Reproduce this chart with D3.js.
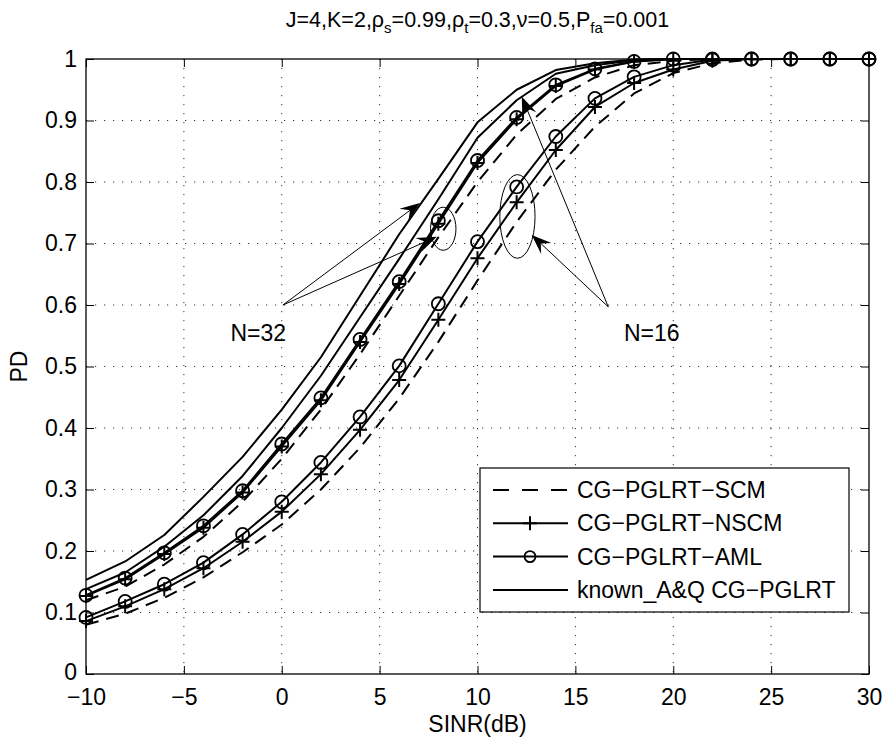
<!DOCTYPE html>
<html>
<head>
<meta charset="utf-8">
<script src="https://cdn.jsdelivr.net/npm/d3@7"></script>
<style>
  body { margin: 0; background: #fff; }
  text { font-family: "Liberation Sans", Arial, sans-serif; fill: #000; }
</style>
</head>
<body>
<svg id="chart" width="885" height="740"></svg>
<script>
// SINR sample points (dB)
const snr = [-10, -8, -6, -4, -2, 0, 2, 4, 6, 8, 10, 12, 14, 16, 18, 20, 22, 24, 26, 28, 30];

// known A&Q curves (two plain solid lines on top)
const knownA = [0.153, 0.183, 0.226, 0.288, 0.353, 0.43, 0.515, 0.615, 0.715, 0.805, 0.897, 0.95, 0.982, 0.993, 0.999, 1, 1, 1, 1, 1, 1];
const knownB = [0.138, 0.165, 0.207, 0.258, 0.322, 0.4, 0.485, 0.58, 0.675, 0.772, 0.872, 0.933, 0.976, 0.99, 0.998, 1, 1, 1, 1, 1, 1];

// N = 32
const aml32  = [0.128, 0.156, 0.197, 0.241, 0.298, 0.374, 0.449, 0.544, 0.638, 0.737, 0.835, 0.905, 0.958, 0.984, 0.996, 1, 1, 1, 1, 1, 1];
const nscm32 = [0.127, 0.154, 0.195, 0.238, 0.295, 0.37, 0.445, 0.54, 0.634, 0.732, 0.831, 0.902, 0.956, 0.983, 0.996, 1, 1, 1, 1, 1, 1];
const scm32  = [0.12, 0.142, 0.178, 0.223, 0.28, 0.35, 0.43, 0.52, 0.615, 0.71, 0.8, 0.877, 0.935, 0.97, 0.99, 0.997, 1, 1, 1, 1, 1];

// N = 16
const aml16  = [0.092, 0.118, 0.146, 0.181, 0.227, 0.28, 0.344, 0.418, 0.501, 0.602, 0.703, 0.792, 0.874, 0.936, 0.971, 0.99, 0.999, 1, 1, 1, 1];
const nscm16 = [0.086, 0.11, 0.138, 0.172, 0.215, 0.264, 0.325, 0.397, 0.478, 0.576, 0.676, 0.767, 0.852, 0.922, 0.961, 0.983, 0.997, 1, 1, 1, 1];
const scm16  = [0.08, 0.098, 0.124, 0.157, 0.198, 0.243, 0.3, 0.368, 0.448, 0.54, 0.64, 0.735, 0.82, 0.89, 0.944, 0.977, 0.993, 0.999, 1, 1, 1];

const xTicks = [-10, -5, 0, 5, 10, 15, 20, 25, 30];
const yTicks = [0, 0.1, 0.2, 0.3, 0.4, 0.5, 0.6, 0.7, 0.8, 0.9, 1];

const legendLabels = ["CG\u2212PGLRT\u2212SCM", "CG\u2212PGLRT\u2212NSCM", "CG\u2212PGLRT\u2212AML", "known_A&Q CG\u2212PGLRT"];

// annotations, in data units: [fromX, fromY, toX, toY]
const arrows32 = [[0.06, 0.6, 7.06, 0.766], [0.06, 0.6, 7.92, 0.711]];
const arrows16 = [[16.68, 0.597, 12.26, 0.939], [16.68, 0.597, 12.77, 0.714]];
// ellipses: [cx, cy, rx (dB), ry (PD)]
const ellipses = [[8.25, 0.724, 0.65, 0.035], [12.04, 0.744, 0.9, 0.068]];
const notes = [["N=32", -1.2, 0.555], ["N=16", 18.9, 0.555]];

const fontSize = "23px";
const margin = {top: 59, right: 16, bottom: 66, left: 86};
const width = 885 - margin.left - margin.right,
      height = 740 - margin.top - margin.bottom;

const svg = d3.select("#chart");
const g = svg.append("g")
    .attr("transform", "translate(" + margin.left + "," + margin.top + ")");

const x = d3.scaleLinear().domain([-10, 30]).range([0, width]);
const y = d3.scaleLinear().domain([0, 1]).range([height, 0]);

// grid
g.append("g").selectAll("line")
    .data(xTicks.slice(1, -1))
  .enter().append("line")
    .attr("x1", d => x(d)).attr("x2", d => x(d))
    .attr("y1", 0).attr("y2", height)
    .attr("stroke", "#333").attr("stroke-width", 1)
    .attr("stroke-dasharray", "1.2,7.8");
g.append("g").selectAll("line")
    .data(yTicks.slice(1, -1))
  .enter().append("line")
    .attr("y1", d => y(d)).attr("y2", d => y(d))
    .attr("x1", 0).attr("x2", width)
    .attr("stroke", "#333").attr("stroke-width", 1)
    .attr("stroke-dasharray", "1.2,7.8");

// axes, ticks pointing in
const fmtX = d => d < 0 ? "\u2212" + Math.abs(d) : String(d);
g.append("g")
    .attr("transform", "translate(0," + height + ")")
    .call(d3.axisBottom(x).tickValues(xTicks).tickSize(-8).tickPadding(15).tickFormat(fmtX));
const leftAxis = g.append("g")
    .call(d3.axisLeft(y).tickValues(yTicks).tickSize(-8).tickPadding(9).tickFormat(d => String(d)));
g.append("g")
    .call(d3.axisTop(x).tickValues(xTicks).tickSize(-8).tickFormat(""));
g.append("g")
    .attr("transform", "translate(" + width + ",0)")
    .call(d3.axisRight(y).tickValues(yTicks).tickSize(-8).tickFormat(""));
g.selectAll(".domain").remove();
g.selectAll(".tick line").attr("stroke", "#000").attr("stroke-width", 1);
g.selectAll(".tick text").style("font-size", fontSize).style("font-family", "'Liberation Sans', Arial, sans-serif");
// lift the "0" a touch so it clears the "-10" below
leftAxis.selectAll(".tick text").filter(d => d === 0).attr("y", -2);

g.append("rect")
    .attr("width", width).attr("height", height)
    .attr("fill", "none").attr("stroke", "#000").attr("stroke-width", 1.3);

// curves
const series = [
  {vals: scm16, dash: "13,8", mark: null},
  {vals: nscm16, dash: null, mark: "plus"},
  {vals: aml16, dash: null, mark: "circle"},
  {vals: scm32, dash: "13,8", mark: null},
  {vals: nscm32, dash: null, mark: "plus"},
  {vals: aml32, dash: null, mark: "circle"},
  {vals: knownB, dash: null, mark: null},
  {vals: knownA, dash: null, mark: null}
];

const line = d3.line()
    .x((d, i) => x(snr[i]))
    .y(d => y(d));

series.forEach((s) => {
  g.append("path")
      .datum(s.vals)
      .attr("d", line)
      .attr("fill", "none")
      .attr("stroke", "#000")
      .attr("stroke-width", 2)
      .attr("stroke-linejoin", "round")
      .attr("stroke-dasharray", s.dash);
});

function drawMark(sel, kind, cx, cy) {
  if (kind === "circle") {
    sel.append("circle")
        .attr("cx", cx).attr("cy", cy).attr("r", 6.5)
        .attr("fill", "none").attr("stroke", "#000").attr("stroke-width", 1.8);
  } else if (kind === "plus") {
    sel.append("path")
        .attr("d", `M${cx - 7},${cy}H${cx + 7}M${cx},${cy - 7}V${cy + 7}`)
        .attr("stroke", "#000").attr("stroke-width", 2);
  }
}

series.forEach((s) => {
  if (!s.mark) return;
  const mg = g.append("g");
  s.vals.forEach((v, i) => drawMark(mg, s.mark, x(snr[i]), y(v)));
});

// annotations
function arrow(a) {
  const x0 = x(a[0]), y0 = y(a[1]), x1 = x(a[2]), y1 = y(a[3]);
  const len = Math.hypot(x1 - x0, y1 - y0);
  const ux = (x1 - x0) / len, uy = (y1 - y0) / len;
  const nx = -uy, ny = ux;
  const L = 20, W = 7.5;
  g.append("line")
      .attr("x1", x0).attr("y1", y0)
      .attr("x2", x1 - ux * L * 0.6).attr("y2", y1 - uy * L * 0.6)
      .attr("stroke", "#000").attr("stroke-width", 1);
  const pts = [
    [x1, y1],
    [x1 - ux * L + nx * W, y1 - uy * L + ny * W],
    [x1 - ux * L * 0.62, y1 - uy * L * 0.62],
    [x1 - ux * L - nx * W, y1 - uy * L - ny * W]
  ];
  g.append("path")
      .attr("d", "M" + pts.map(p => p.join(",")).join("L") + "Z")
      .attr("fill", "#000");
}
arrows32.forEach(arrow);
arrows16.forEach(arrow);

g.selectAll(".ell")
    .data(ellipses)
  .enter().append("ellipse")
    .attr("cx", d => x(d[0])).attr("cy", d => y(d[1]))
    .attr("rx", d => x(d[0] + d[2]) - x(d[0]))
    .attr("ry", d => y(d[1] - d[3]) - y(d[1]))
    .attr("fill", "none").attr("stroke", "#000").attr("stroke-width", 1);

g.selectAll(".note")
    .data(notes)
  .enter().append("text")
    .attr("x", d => x(d[1])).attr("y", d => y(d[2]))
    .attr("dy", "0.35em")
    .attr("text-anchor", "middle")
    .style("font-size", fontSize)
    .text(d => d[0]);

// legend
const lg = g.append("g").attr("transform", "translate(" + (480 - margin.left) + "," + (468 - margin.top) + ")");
lg.append("rect")
    .attr("width", 369).attr("height", 144)
    .attr("fill", "#fff").attr("stroke", "#000").attr("stroke-width", 1.2);
const legendStyle = [{dash: "13,8", mark: null}, {dash: null, mark: "plus"}, {dash: null, mark: "circle"}, {dash: null, mark: null}];
legendLabels.forEach((lab, i) => {
  const cy = 22 + i * 33.3;
  lg.append("line")
      .attr("x1", 13).attr("x2", 88).attr("y1", cy).attr("y2", cy)
      .attr("stroke", "#000").attr("stroke-width", 2)
      .attr("stroke-dasharray", legendStyle[i].dash ? "16,13" : null);
  if (legendStyle[i].mark === "circle") {
    lg.append("circle").attr("cx", 50).attr("cy", cy).attr("r", 5.5)
        .attr("fill", "none").attr("stroke", "#000").attr("stroke-width", 1.8);
  } else if (legendStyle[i].mark === "plus") {
    drawMark(lg, "plus", 50, cy);
  }
  lg.append("text")
      .attr("x", 97).attr("y", cy).attr("dy", "0.35em")
      .style("font-size", fontSize)
      .text(lab);
});

// labels
svg.append("text")
    .attr("x", margin.left + width / 2).attr("y", 732)
    .attr("text-anchor", "middle")
    .style("font-size", fontSize)
    .text("SINR(dB)");

svg.append("text")
    .attr("transform", "translate(27," + (margin.top + height / 2) + ") rotate(-90)")
    .attr("text-anchor", "middle")
    .style("font-size", fontSize)
    .text("PD");

const title = svg.append("text")
    .attr("x", margin.left + width / 2).attr("y", 27)
    .attr("text-anchor", "middle")
    .style("font-size", "21.5px");
const parts = [["J=4,K=2,\u03c1", 0], ["s", 1], ["=0.99,\u03c1", 0], ["t", 1], ["=0.3,\u03bd=0.5,P", 0], ["fa", 1], ["=0.001", 0]];
parts.forEach((p) => {
  const t = title.append("tspan").text(p[0]);
  if (p[1]) {
    t.attr("dy", 6).style("font-size", "15px");
  }
  else if (title.selectAll("tspan").size() > 1) t.attr("dy", -6);
});
</script>
</body>
</html>
